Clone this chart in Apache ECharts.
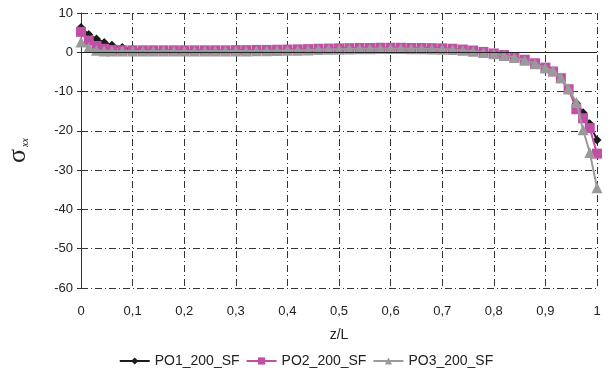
<!DOCTYPE html>
<html>
<head>
<meta charset="utf-8">
<script src="https://cdn.jsdelivr.net/npm/echarts@6/dist/echarts.min.js"></script>
<style>html,body{margin:0;padding:0;background:#fff}#c{width:612px;height:374px}</style>
</head>
<body>
<div id="c"></div>
<script>
var zValues = [0, 0.015, 0.03, 0.045, 0.06, 0.08, 0.10, 0.12, 0.14, 0.16, 0.18, 0.20, 0.22, 0.24, 0.26, 0.28, 0.30, 0.32, 0.34, 0.36, 0.38, 0.40, 0.42, 0.44, 0.46, 0.48, 0.50, 0.52, 0.54, 0.56, 0.58, 0.60, 0.62, 0.64, 0.66, 0.68, 0.70, 0.72, 0.74, 0.76, 0.78, 0.80, 0.82, 0.84, 0.86, 0.88, 0.90, 0.915, 0.93, 0.945, 0.96, 0.973, 0.986, 1.0];
var po1 = [6.3, 4.5, 3.4, 2.5, 1.8, 1.2, 0.8, 0.6, 0.5, 0.45, 0.4, 0.4, 0.4, 0.4, 0.4, 0.4, 0.45, 0.45, 0.5, 0.5, 0.55, 0.6, 0.65, 0.7, 0.8, 0.85, 0.9, 0.95, 1.0, 1.0, 1.05, 1.05, 1.05, 1.0, 1.0, 0.95, 0.9, 0.8, 0.6, 0.35, 0.05, -0.3, -0.7, -1.2, -1.8, -2.7, -3.8, -4.9, -6.6, -9.6, -13.0, -15.4, -18.2, -22.3];
var po2 = [5.2, 3.0, 1.6, 0.9, 0.6, 0.5, 0.5, 0.5, 0.5, 0.5, 0.5, 0.5, 0.5, 0.5, 0.5, 0.5, 0.55, 0.55, 0.6, 0.6, 0.65, 0.7, 0.75, 0.8, 0.9, 0.95, 1.0, 1.05, 1.1, 1.1, 1.15, 1.15, 1.15, 1.1, 1.1, 1.05, 1.0, 0.9, 0.7, 0.45, 0.1, -0.3, -0.7, -1.2, -1.9, -2.8, -3.9, -4.9, -6.6, -9.4, -14.5, -16.8, -19.3, -25.8];
var po3 = [2.6, 1.2, 0.5, 0.3, 0.3, 0.3, 0.3, 0.3, 0.3, 0.3, 0.3, 0.3, 0.3, 0.3, 0.3, 0.3, 0.35, 0.35, 0.4, 0.4, 0.45, 0.5, 0.55, 0.6, 0.7, 0.75, 0.8, 0.85, 0.9, 0.9, 0.95, 0.95, 0.95, 0.9, 0.9, 0.85, 0.8, 0.7, 0.5, 0.25, -0.05, -0.4, -0.8, -1.3, -2.0, -2.9, -4.0, -4.7, -6.5, -9.3, -12.8, -19.7, -25.5, -34.5];
var seriesNames = ['PO1_200_SF', 'PO2_200_SF', 'PO3_200_SF'];
var xTickLabels = ['0', '0,1', '0,2', '0,3', '0,4', '0,5', '0,6', '0,7', '0,8', '0,9', '1'];

function pairs(ys) { return zValues.map(function (z, i) { return [z, ys[i]]; }); }

var font = 'Liberation Sans, Arial, sans-serif';
var dashDot = [7, 3, 1, 3];
var chart = echarts.init(document.getElementById('c'), null, { renderer: 'canvas' });
chart.setOption({
  animation: false,
  backgroundColor: '#fff',
  grid: { left: 81, right: 15, top: 13, bottom: 86, containLabel: false, outerBoundsMode: 'none' },
  legend: {
    bottom: 1, left: 'center', itemWidth: 30, itemHeight: 9, itemGap: 6,
    textStyle: { fontFamily: font, fontSize: 14, color: '#222' },
    data: seriesNames
  },
  xAxis: {
    type: 'value', min: 0, max: 1, interval: 0.1,
    name: 'z/L', nameLocation: 'middle', nameGap: 40,
    nameTextStyle: { fontFamily: font, fontSize: 14, color: '#222' },
    axisLine: { show: false, onZero: false },
    axisTick: { show: false },
    axisLabel: {
      margin: 17, fontFamily: font, fontSize: 13, color: '#222',
      formatter: function (v) { return xTickLabels[Math.round(v * 10)]; }
    },
    splitLine: { show: true, lineStyle: { color: '#333', width: 1, type: dashDot } }
  },
  yAxis: {
    type: 'value', min: -60, max: 10, interval: 10,
    name: '{s|σ}{sub|xx}', nameLocation: 'middle', nameGap: 50, nameRotate: 90,
    nameTextStyle: {
      rich: {
        s: { fontFamily: 'Liberation Serif, serif', fontSize: 26, color: '#222' },
        sub: { fontFamily: 'Liberation Serif, serif', fontStyle: 'italic', fontSize: 10, color: '#222', padding: [14, 0, 0, 2] }
      }
    },
    axisLine: { show: true, lineStyle: { color: '#333', width: 1 } },
    axisTick: { show: true, length: 4, lineStyle: { color: '#333' } },
    axisLabel: { margin: 8, fontFamily: font, fontSize: 13, color: '#222' },
    splitLine: { show: true, lineStyle: { color: '#333', width: 1, type: dashDot } }
  },
  series: [
    {
      name: seriesNames[0], type: 'line', data: pairs(po1),
      symbol: 'diamond', symbolSize: 9, showAllSymbol: true,
      lineStyle: { color: '#1a1a1a', width: 2 },
      itemStyle: { color: '#1a1a1a' },
      markLine: {
        silent: true, symbol: 'none', label: { show: false },
        lineStyle: { color: '#222', width: 1, type: 'solid' },
        data: [{ yAxis: 0 }]
      },
      z: 2
    },
    {
      name: seriesNames[1], type: 'line', data: pairs(po2),
      symbol: 'rect', symbolSize: 10, showAllSymbol: true,
      lineStyle: { color: '#c24fa6', width: 2 },
      itemStyle: { color: '#c24fa6' },
      z: 3
    },
    {
      name: seriesNames[2], type: 'line', data: pairs(po3),
      symbol: 'triangle', symbolSize: 11, showAllSymbol: true,
      lineStyle: { color: '#9a9a9a', width: 2 },
      itemStyle: { color: '#9a9a9a' },
      z: 4
    }
  ]
});
</script>
</body>
</html>
